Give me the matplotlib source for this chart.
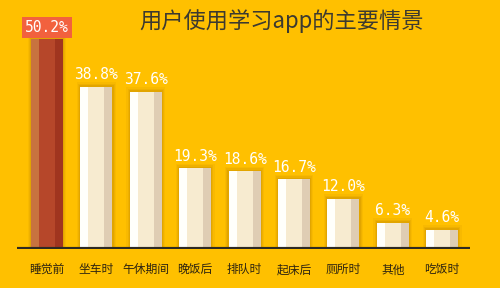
import matplotlib.pyplot as plt
import numpy as np

categories = ["睡觉前", "坐车时", "午休期间", "晚饭后", "排队时", "起床后", "厕所时", "其他", "吃饭时"]
values = [50.2, 38.8, 37.6, 19.3, 18.6, 16.7, 12.0, 6.3, 4.6]
labels = ["50.2%", "38.8%", "37.6%", "19.3%", "18.6%", "16.7%", "12.0%", "6.3%", "4.6%"]
title = "用户使用学习app的主要情景"

plt.rcParams['font.family'] = ['Noto Sans CJK SC', 'DejaVu Sans']

bg = "#FFC000"
fig = plt.figure(figsize=(5, 2.88), dpi=100, facecolor=bg)
ax = fig.add_axes([17 / 500, 39 / 288, 453 / 500, 249 / 288])
ax.set_facecolor(bg)
ax.set_xlim(-0.607, 8.563)
ax.set_ylim(0, 59.6)
ax.axis("off")

x = np.arange(len(values))
w = 0.648
left = x - w / 2

# soft shadow behind the bars
for k, a in [(0.14, 0.08), (0.09, 0.12), (0.05, 0.16)]:
    ax.bar(x, [v + k * 8 for v in values], width=w + k, color="#A87000", alpha=a,
           zorder=1, linewidth=0)

for i, v in enumerate(values):
    if i == 0:
        cols = ["#C8733F", "#B6472A", "#A0351F"]
    else:
        cols = ["#FFFFFB", "#F7EBD0", "#DFCDB4"]
    ax.bar(left[i], v, width=w * 0.25, align="edge", color=cols[0], zorder=2)
    ax.bar(left[i] + w * 0.25, v, width=w * 0.5, align="edge", color=cols[1], zorder=2)
    ax.bar(left[i] + w * 0.75, v, width=w * 0.25, align="edge", color=cols[2], zorder=2)

    if i == 0:
        ax.text(x[i], v + 2.9, labels[i], ha="center", va="center", color="white",
                family="DejaVu Sans Mono", fontsize=10.5, zorder=4,
                bbox=dict(boxstyle="square,pad=0.2", fc="#F2613E", ec="none"))
    else:
        ax.text(x[i], v + 1.1, labels[i], ha="center", va="bottom", color="white",
                family="DejaVu Sans Mono", fontsize=10.5, zorder=4)

ax.axhline(0, color="#2E2A22", linewidth=3, zorder=3)

for i, c in enumerate(categories):
    ax.text(x[i], -5.0, c, ha="center", va="center", color="#2E2410", fontsize=8.5)

fig.text(282 / 500, 1 - 21 / 288, title, ha="center", va="center", color="#3C3A30",
         fontsize=16, fontweight="light")

fig.savefig("out.png", dpi=100, facecolor=bg)
